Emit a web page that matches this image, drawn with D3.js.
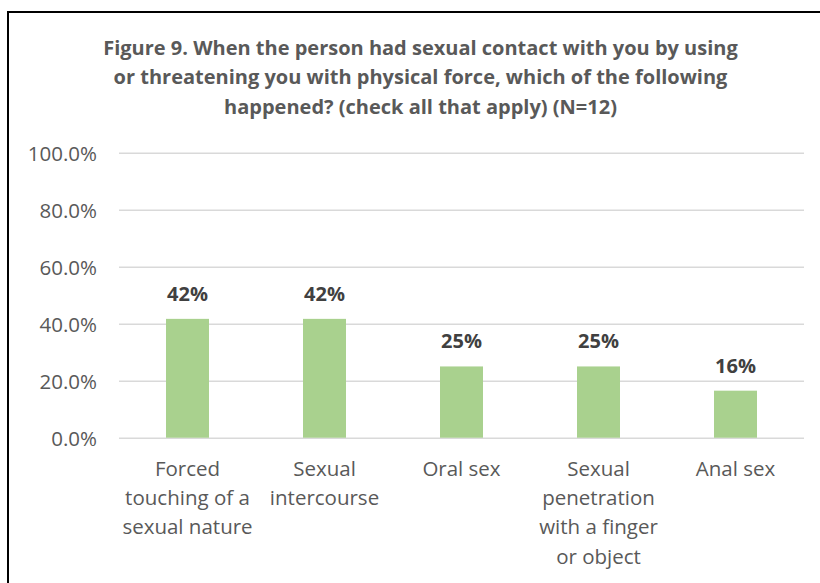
<!DOCTYPE html>
<html><head><meta charset="utf-8">
<script src="https://cdn.jsdelivr.net/npm/d3@7"></script>
<style>
html,body{margin:0;padding:0;background:#fff;}
svg{display:block;}
text{font-family:"Open Sans",sans-serif;}
</style></head>
<body>
<script>
const categories = [
  ["Forced","touching of a","sexual nature"],
  ["Sexual","intercourse"],
  ["Oral sex"],
  ["Sexual","penetration","with a finger","or object"],
  ["Anal sex"]
];
const values = [41.7, 41.7, 25, 25, 16.5];
const valueLabels = ["42%","42%","25%","25%","16%"];
const yTicks = [0, 20, 40, 60, 80, 100];
const titleLines = [
  "Figure 9. When the person had sexual contact with you by using",
  "or threatening you with physical force, which of the following",
  "happened? (check all that apply) (N=12)"
];

const W = 820, H = 583;
const svg = d3.select("body").append("svg").attr("width", W).attr("height", H);

// border (left and top only visible)
svg.append("line").attr("x1",8).attr("x2",8).attr("y1",12).attr("y2",H).attr("stroke","#000").attr("stroke-width",2);
svg.append("line").attr("x1",7).attr("x2",W).attr("y1",12).attr("y2",12).attr("stroke","#000").attr("stroke-width",2);

const plot = {left:119, right:804, top:152.7, bottom:437.7};
const x = d3.scaleBand().domain(d3.range(categories.length)).range([plot.left, plot.right]).paddingInner(0).paddingOuter(0);
const y = d3.scaleLinear().domain([0,100]).range([plot.bottom, plot.top]);

// title
svg.append("g").selectAll("text").data(titleLines).join("text")
  .attr("x", 420.5).attr("y", (d,i)=>55 + i*29.3)
  .attr("text-anchor","middle")
  .attr("font-size", 20).attr("font-weight", 700).attr("fill", "#595959")
  .text(d=>d);

// gridlines
const yAxis = d3.axisLeft(y).tickValues(yTicks).tickSize(-(plot.right-plot.left)).tickFormat(d=>d.toFixed(1)+"%").tickPadding(22);
const ga = svg.append("g").attr("transform",`translate(${plot.left},0)`).call(yAxis);
ga.select(".domain").remove();
ga.selectAll(".tick line").attr("stroke","#D9D9D9").attr("stroke-width",1.5);
ga.selectAll(".tick text").attr("font-size",20.5).attr("fill","#595959").attr("dy","0.36em").attr("font-family","Open Sans, sans-serif");

// bars
const bw = 43;
svg.append("g").selectAll("rect").data(values).join("rect")
  .attr("x",(d,i)=>x(i)+x.bandwidth()/2-bw/2)
  .attr("width",bw)
  .attr("y",d=>y(d))
  .attr("height",d=>y(0)-y(d))
  .attr("fill","#A9D18E");

// value labels
svg.append("g").selectAll("text").data(values).join("text")
  .attr("x",(d,i)=>x(i)+x.bandwidth()/2)
  .attr("y",d=>y(d)-18)
  .attr("text-anchor","middle")
  .attr("font-size",20).attr("font-weight",700).attr("fill","#404040")
  .text((d,i)=>valueLabels[i]);

// category labels
const cg = svg.append("g").selectAll("text").data(categories).join("text")
  .attr("x",(d,i)=>x(i)+x.bandwidth()/2)
  .attr("y",476)
  .attr("text-anchor","middle")
  .attr("font-size",20.5).attr("fill","#595959");
cg.selectAll("tspan").data(d=>d).join("tspan")
  .attr("x",function(){return this.parentNode.getAttribute("x");})
  .attr("dy",(d,i)=>i===0?0:29.2)
  .text(d=>d);
</script>
</body></html>
